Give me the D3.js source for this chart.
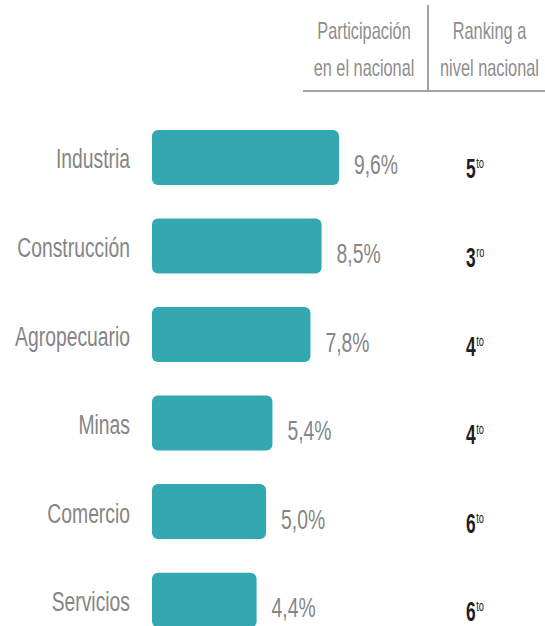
<!DOCTYPE html>
<html>
<head>
<meta charset="utf-8">
<script src="https://cdn.jsdelivr.net/npm/d3@7"></script>
<style>
  html, body { margin: 0; padding: 0; background: #ffffff; }
  svg { display: block; }
  text { font-family: "Liberation Sans", Arial, sans-serif; }
</style>
</head>
<body>
<svg id="chart" width="545" height="626"></svg>
<script>
// ---- data ----
const categories = ["Industria", "Construcción", "Agropecuario", "Minas", "Comercio", "Servicios"];
const shares = [9.6, 8.5, 7.8, 5.4, 5.0, 4.4];
const shareLabels = ["9,6%", "8,5%", "7,8%", "5,4%", "5,0%", "4,4%"];
const rankNumbers = ["5", "3", "4", "4", "6", "6"];
const rankSuffixes = ["to", "ro", "to", "to", "to", "to"];
const headerCol1 = ["Participación", "en el nacional"];
const headerCol2 = ["Ranking a", "nivel nacional"];

// ---- layout ----
const W = 545, H = 626;
const svg = d3.select("#chart");
const SX = 0.69; // condensed look

const x = d3.scaleLinear().domain([-2.2, 9.6]).range([152, 339]);
const y = d3.scaleBand().domain(categories).range([130, 627.6]).paddingInner(0.379).paddingOuter(0);

function condText(parent, tx, ty, sx) {
  return parent.append("g").attr("transform", `translate(${tx},${ty}) scale(${sx},1)`).append("text");
}

// header
const hdr = svg.append("g");
[[headerCol1, 364], [headerCol2, 489.5]].forEach(([lines, cx]) => {
  lines.forEach((ln, i) => {
    condText(hdr, cx, 39 + i * 37, 0.71)
      .attr("text-anchor", "middle")
      .attr("font-size", 23)
      .attr("fill", "#8d8d8d")
      .text(ln);
  });
});
hdr.append("line").attr("x1", 303).attr("x2", W).attr("y1", 91).attr("y2", 91)
  .attr("stroke", "#a3a3a3").attr("stroke-width", 2);
hdr.append("line").attr("x1", 428).attr("x2", 428).attr("y1", 5).attr("y2", 92)
  .attr("stroke", "#a3a3a3").attr("stroke-width", 2);

// rows
const rows = svg.append("g").selectAll("g.row")
  .data(categories.map((c, i) => ({ c, v: shares[i], lab: shareLabels[i], rn: rankNumbers[i], rs: rankSuffixes[i] })))
  .join("g").attr("class", "row");

rows.append("rect")
  .attr("x", x.range()[0])
  .attr("y", d => y(d.c))
  .attr("width", d => x(d.v) - x.range()[0])
  .attr("height", y.bandwidth())
  .attr("rx", 6).attr("ry", 6)
  .attr("fill", "#33a8b1");

rows.each(function(d) {
  const g = d3.select(this);
  const cy = y(d.c) + y.bandwidth() / 2;
  condText(g, 130, cy + 11, SX)
    .attr("text-anchor", "end").attr("font-size", 28).attr("fill", "#858585")
    .text(d.c);
  condText(g, x(d.v) + 15, cy + 17, SX)
    .attr("text-anchor", "start").attr("font-size", 28).attr("fill", "#858585")
    .text(d.lab);
  const t = condText(g, 466, cy + 21, 0.62)
    .attr("text-anchor", "start").attr("fill", "#1e1e1e");
  t.append("tspan").attr("font-size", 28).attr("font-weight", "bold").text(d.rn);
  t.append("tspan").attr("font-size", 15).attr("dy", -10).attr("dx", 1).text(d.rs);
});
</script>
</body>
</html>
